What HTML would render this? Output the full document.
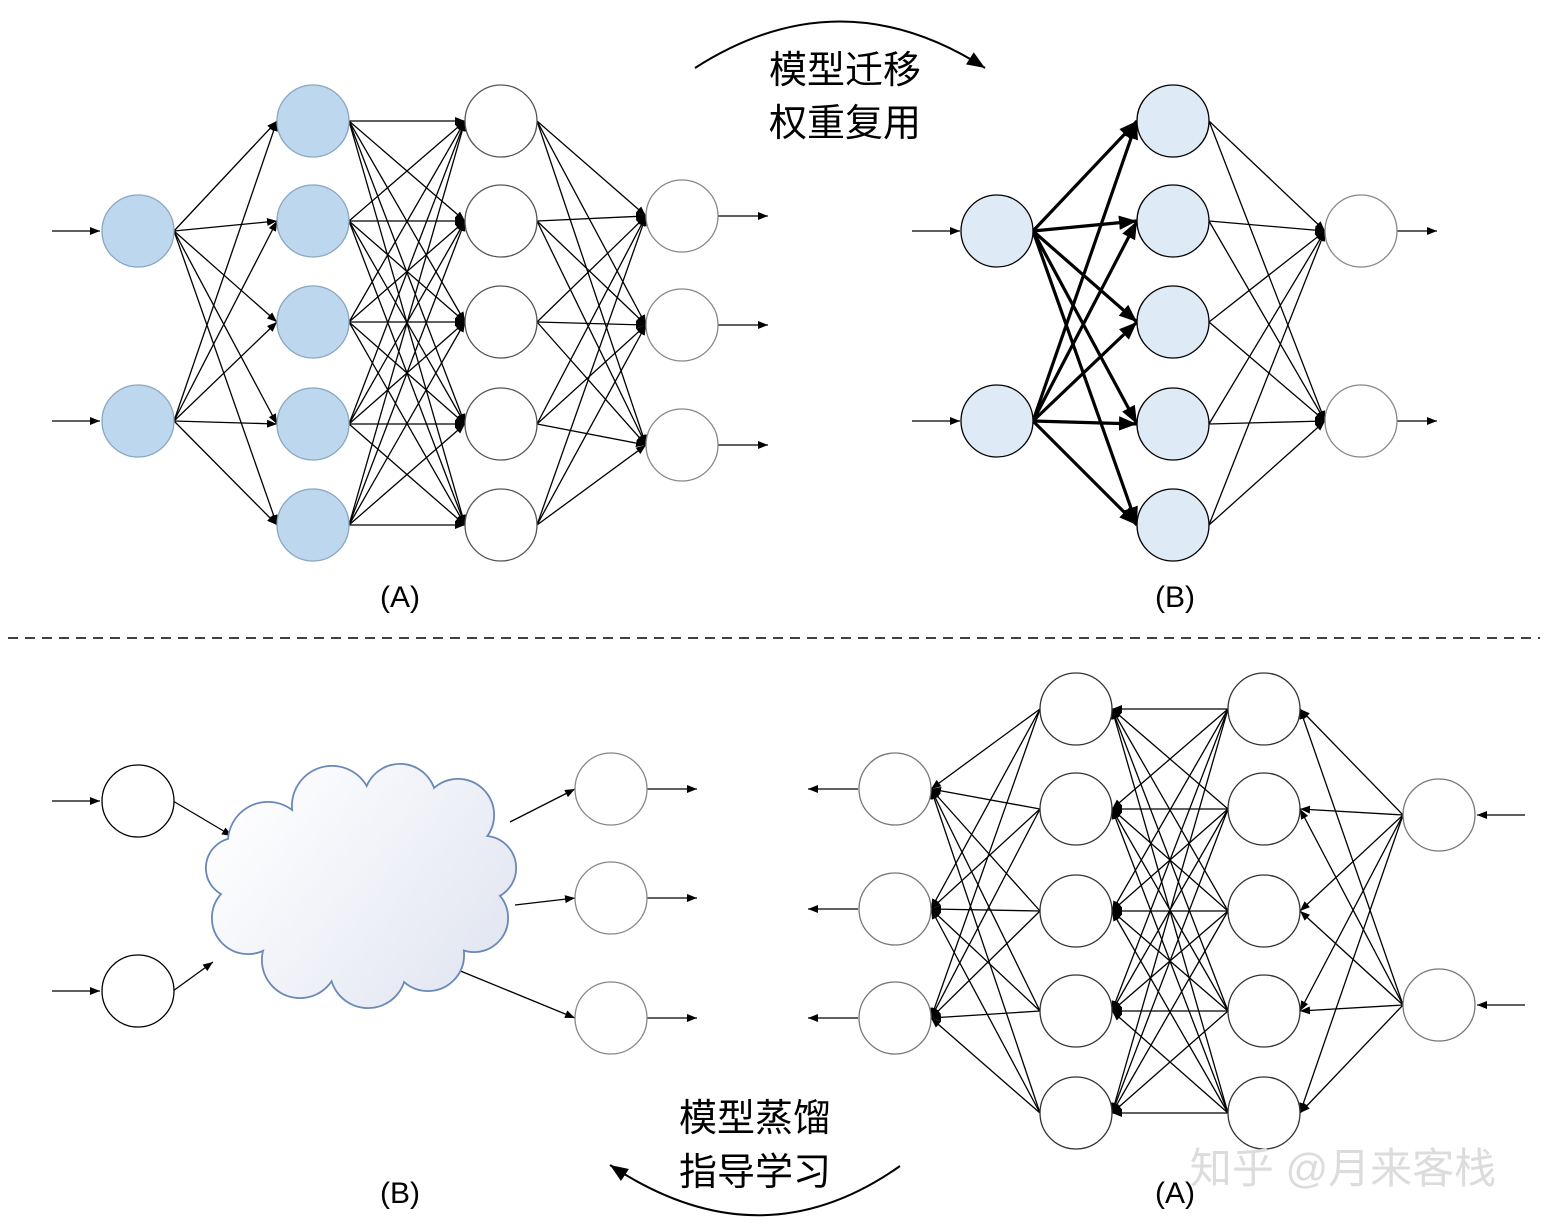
<!DOCTYPE html>
<html><head><meta charset="utf-8"><style>
html,body{margin:0;padding:0;background:#fff;width:1549px;height:1232px;overflow:hidden}
svg{display:block}
text{font-family:"Liberation Sans","Noto Sans CJK SC",sans-serif}
</style></head><body>
<svg id="s" width="1549" height="1232" viewBox="0 0 1549 1232" xmlns="http://www.w3.org/2000/svg">
<defs>
<marker id="a" viewBox="0 0 10 10" refX="10" refY="5" markerWidth="10" markerHeight="10" markerUnits="userSpaceOnUse" orient="auto"><path d="M0,1 L10,5 L0,9 z" fill="#000"/></marker>
<marker id="ab" viewBox="0 0 10 10" refX="10" refY="5" markerWidth="18" markerHeight="18" markerUnits="userSpaceOnUse" orient="auto"><path d="M0,1 L10,5 L0,9 z" fill="#000"/></marker>
<linearGradient id="cg" gradientUnits="userSpaceOnUse" x1="230" y1="790" x2="500" y2="1000"><stop offset="0" stop-color="#ffffff"/><stop offset="1" stop-color="#e0e4f0"/></linearGradient>
</defs>
<g id="lines" stroke="#000" fill="none"></g>
<g id="nodes"></g>
<g id="cloud"></g>
<path d="M695,68 Q840,-25 985,68" stroke="#000" stroke-width="2" fill="none" marker-end="url(#ab)"/>
<path d="M900,1166 Q760,1265 610,1165" stroke="#000" stroke-width="2" fill="none" marker-end="url(#ab)"/>
<text x="845" y="83" font-size="38" text-anchor="middle">模型迁移</text>
<text x="845" y="136" font-size="38" text-anchor="middle">权重复用</text>
<text x="755" y="1131" font-size="38" text-anchor="middle">模型蒸馏</text>
<text x="755" y="1185" font-size="38" text-anchor="middle">指导学习</text>
<text x="400" y="607" font-size="30" text-anchor="middle">(A)</text>
<text x="1175" y="607" font-size="30" text-anchor="middle">(B)</text>
<text x="400" y="1203" font-size="30" text-anchor="middle">(B)</text>
<text x="1175" y="1203" font-size="30" text-anchor="middle">(A)</text>
<text x="1343" y="1183" font-size="42" text-anchor="middle" fill="#dcdcdc">知乎 @月来客栈</text>
<line x1="8" y1="638" x2="1540" y2="638" stroke="#000" stroke-width="1.5" stroke-dasharray="10,7"/>
</svg>
<script>
var NS="http://www.w3.org/2000/svg",L=document.getElementById('lines'),N=document.getElementById('nodes'),C=document.getElementById('cloud');
function el(p,t,a){var e=document.createElementNS(NS,t);for(var k in a)e.setAttribute(k,a[k]);p.appendChild(e);return e}
var R=36;
function ln(x1,y1,x2,y2,w,m){el(L,'line',{x1:x1,y1:y1,x2:x2,y2:y2,'stroke-width':w||1.3,'marker-end':'url(#'+(m||'a')+')'})}
function node(x,y,f,s){el(N,'circle',{cx:x,cy:y,r:R,fill:f||'#fff',stroke:s||'#000','stroke-width':1.3})}
function full(xa,ya,xb,yb,w,m,dir){ya.forEach(function(a){yb.forEach(function(b){
 if(dir<0) ln(xa-R,a,xb+R,b,w,m); else ln(xa+R,a,xb-R,b,w,m);})})}
var H=[121,221,322,424,525];
full(138,[231,421],313,H);full(313,H,501,H);full(501,H,682,[216,325,445]);
[231,421].forEach(function(y){ln(52,y,100,y);node(138,y,'#bdd7ee','#8aa6c1')});
H.forEach(function(y){node(313,y,'#bdd7ee','#8aa6c1');node(501,y,'#fff','#555')});
[216,325,445].forEach(function(y){node(682,y,'#fff','#888');ln(718,y,768,y)});
full(997,[231,421],1173,H,3.2,'ab');full(1173,H,1361,[231,421]);
[231,421].forEach(function(y){ln(912,y,960,y);node(997,y,'#deebf7','#000')});
H.forEach(function(y){node(1173,y,'#deebf7','#000')});
[231,421].forEach(function(y){node(1361,y,'#fff','#888');ln(1397,y,1437,y)});
var HB=[709,809,911,1011,1113];
full(1439,[815,1005],1264,HB,1.3,'a',-1);full(1264,HB,1076,HB,1.3,'a',-1);full(1076,HB,895,[789,909,1018],1.3,'a',-1);
[815,1005].forEach(function(y){node(1439,y,'#fff','#777');ln(1525,y,1477,y)});
HB.forEach(function(y){node(1264,y,'#fff','#333');node(1076,y,'#fff','#333')});
[789,909,1018].forEach(function(y){node(895,y,'#fff','#777');ln(858,y,808,y)});
[801,991].forEach(function(y){ln(52,y,100,y);node(138,y,'#fff','#000')});
ln(173,801,232,836);ln(173,991,213,962);
ln(510,822,575,789);ln(515,905,575,898);ln(458,970,575,1018);
[789,898,1018].forEach(function(y){node(611,y,'#fff','#888');ln(647,y,697,y)});
var cc=[[268,842,40],[332,806,40],[400,800,36],[458,815,36],[484,868,32],[474,918,34],[428,955,36],[368,970,38],[300,960,38],[248,918,36],[236,868,30]];
cc.forEach(function(c){el(C,'circle',{cx:c[0],cy:c[1],r:c[2],fill:'#fff',stroke:'#6a88b8','stroke-width':2})});
cc.forEach(function(c){el(C,'circle',{cx:c[0],cy:c[1],r:c[2]-0.8,fill:'url(#cg)'})});
el(C,'ellipse',{cx:362,cy:885,rx:125,ry:88,fill:'url(#cg)'});
</script>
</body></html>
